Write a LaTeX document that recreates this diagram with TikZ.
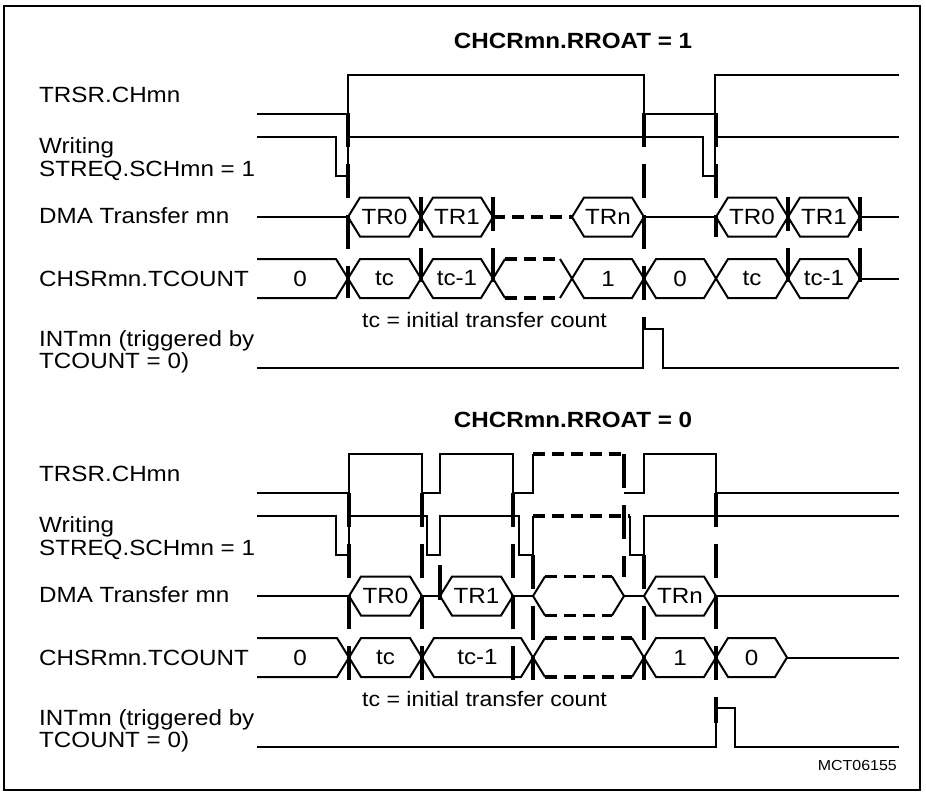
\documentclass[tikz,border=0pt]{standalone}
\usepackage{fontspec}
\setmainfont{Liberation Sans}[FakeStretch=1.1]
\newcommand\hexb[5]{%
  \draw[sig] (#1,#3) -- ({#1+12},{#3-19.5}) -- ({#2-12},{#3-19.5}) -- (#2,#3) -- ({#2-12},{#3+19.5}) -- ({#1+12},{#3+19.5}) -- cycle;
  \node[hx] (#5) at ({(#1+#2)/2},#3) {#4};}
\newcommand\dhexb[3]{%
  \draw[sig] ({#1+12},{#3-19.5}) -- (#1,#3) -- ({#1+12},{#3+19.5});
  \draw[sig] ({#2-12},{#3-19.5}) -- (#2,#3) -- ({#2-12},{#3+19.5});
  \draw[dsig] ({#1+12},{#3-19.5}) -- ({#2-12},{#3-19.5});
  \draw[dsig] ({#1+12},{#3+19.5}) -- ({#2-12},{#3+19.5});}
\begin{document}
\begin{tikzpicture}[x=1pt,y=-1pt,
  sig/.style={line width=2pt,line join=miter},
  dsig/.style={line width=3.5pt,dash pattern=on 12pt off 7pt},
  tmark/.style={line width=3.5pt,dash pattern=on 34pt off 17pt},
  thk/.style={line width=3.5pt},
  lbl/.style={anchor=base west,inner sep=0pt,font=\fontsize{22}{26}\selectfont},
  hx/.style={inner sep=0pt,font=\fontsize{22}{26}\selectfont},
  ttl/.style={inner sep=0pt,font=\bfseries\fontsize{22}{26}\selectfont}]
\useasboundingbox (0,0) rectangle (926,795);
\draw[line width=1.2pt] (4,6) rectangle (920,790);

% ================= TOP: RROAT = 1 =================
\node[ttl] (t1) at (573,41) {CHCRmn.RROAT = 1};
\node[lbl] (a1) at (39,102) {TRSR.CHmn};
\node[lbl] (a2) at (39,153) {Writing};
\node[lbl] (a3) at (39,176) {STREQ.SCHmn = 1};
\node[lbl] (a4) at (39,223) {DMA Transfer mn};
\node[lbl] (a5) at (39,286) {CHSRmn.TCOUNT};
\node[lbl] (a6) at (39,346) {INTmn (triggered by};
\node[lbl] (a7) at (39,368) {TCOUNT = 0)};

\draw[sig] (257,114) -- (348,114) -- (348,75) -- (644,75) -- (644,114) -- (715,114) -- (715,75) -- (899,75);
\draw[sig] (257,137) -- (336,137) -- (336,176) -- (348,176) -- (348,137) -- (703,137) -- (703,176) -- (715,176) -- (715,137) -- (899,137);

% DMA row
\draw[sig] (257,217) -- (348,217);
\hexb{348}{421}{217}{TR0}{d1}
\hexb{421}{493}{217}{TR1}{d2}
\draw[dsig] (493,217) -- (572,217);
\hexb{572}{644}{217}{TRn}{d3}
\draw[sig] (644,217) -- (716,217);
\hexb{716}{788}{217}{TR0}{d4}
\hexb{788}{860}{217}{TR1}{d5}
\draw[sig] (860,217) -- (899,217);

% TCOUNT row
\draw[sig] (257,259) -- (336,259) -- (348,278.5) -- (336,298) -- (257,298);
\node[hx] (c0) at (300,278.5) {0};
\hexb{348}{421}{278.5}{tc}{c1}
\hexb{421}{493}{278.5}{tc-1}{c2}
\dhexb{493}{572}{278.5}
\hexb{572}{644}{278.5}{1}{c3}
\hexb{644}{716}{278.5}{0}{c4}
\hexb{716}{788}{278.5}{tc}{c5}
\hexb{788}{860}{278.5}{tc-1}{c6}
\draw[sig] (860,278.5) -- (899,278.5);
\node[anchor=base west,inner sep=0pt,font=\fontsize{21}{25}\selectfont] (n1) at (362,327) {tc = initial transfer count};

% INT row
\draw[sig] (257,368) -- (643,368) -- (643,329) -- (663,329) -- (663,368) -- (899,368);

% markers
\draw[tmark] (348,113) -- (348,298);
\draw[tmark] (644,113) -- (644,329);
\draw[tmark] (716,113) -- (716,237);
\foreach \xx in {421,493,788,860} \draw[tmark] (\xx,197) -- (\xx,282);

% ================= BOTTOM: RROAT = 0 =================
\begin{scope}[shift={(0,379)}]
\node[ttl] (t2) at (573,41) {CHCRmn.RROAT = 0};
\node[lbl] (b1) at (39,102) {TRSR.CHmn};
\node[lbl] (b2) at (39,153) {Writing};
\node[lbl] (b3) at (39,176) {STREQ.SCHmn = 1};
\node[lbl] (b4) at (39,223) {DMA Transfer mn};
\node[lbl] (b5) at (39,286) {CHSRmn.TCOUNT};
\node[lbl] (b6) at (39,346) {INTmn (triggered by};
\node[lbl] (b7) at (39,368) {TCOUNT = 0)};

\draw[sig] (257,114) -- (349,114) -- (349,75) -- (422,75) -- (422,114) -- (440,114) -- (440,75) -- (513,75) -- (513,114) -- (533,114) -- (533,75);
\draw[dsig] (533,75) -- (624,75);
\draw[sig] (624,114) -- (644,114) -- (644,75) -- (716,75) -- (716,114) -- (899,114);

\draw[sig] (257,137) -- (336,137) -- (336,176) -- (349,176) -- (349,137) -- (427,137) -- (427,176) -- (440,176) -- (440,137) -- (519,137) -- (519,176) -- (533,176) -- (533,137);
\draw[dsig] (533,137) -- (630,137);
\draw[sig] (630,137) -- (630,176) -- (644,176) -- (644,137) -- (899,137);

% DMA row
\draw[sig] (257,217) -- (349,217);
\hexb{349}{422}{217}{TR0}{e1}
\draw[sig] (422,217) -- (440,217);
\hexb{440}{513}{217}{TR1}{e2}
\draw[sig] (513,217) -- (533,217);
\dhexb{533}{624}{217}
\draw[sig] (624,217) -- (644,217);
\hexb{644}{716}{217}{TRn}{e3}
\draw[sig] (716,217) -- (899,217);

% TCOUNT row
\draw[sig] (257,259) -- (337,259) -- (349,278.5) -- (337,298) -- (257,298);
\node[hx] (f0) at (300,278.5) {0};
\hexb{349}{422}{278.5}{tc}{f1}
\hexb{422}{533}{278.5}{tc-1}{f2}
\dhexb{533}{644}{278.5}
\hexb{644}{716}{278.5}{1}{f3}
\hexb{716}{787}{278.5}{0}{f4}
\draw[sig] (787,278.5) -- (899,278.5);
\node[anchor=base west,inner sep=0pt,font=\fontsize{21}{25}\selectfont] (n2) at (362,327) {tc = initial transfer count};

% INT row
\draw[sig] (257,368) -- (716,368) -- (716,329) -- (735,329) -- (735,368) -- (899,368);

% markers
\draw[tmark] (349,114) -- (349,301);
\draw[tmark] (422,114) -- (422,301);
\draw[tmark] (513,114) -- (513,301);
\draw[thk] (440,186) -- (440,221);
\draw[tmark] (533,176) -- (533,301);
\draw[tmark] (624,75) -- (624,198);
\draw[tmark] (644,176) -- (644,301);
\draw[tmark] (716,114) -- (716,344);
\end{scope}

\node[anchor=base east,inner sep=0pt,font=\fontsize{14.5}{17}\selectfont] (m) at (897,770) {MCT06155};
\end{tikzpicture}
\end{document}
